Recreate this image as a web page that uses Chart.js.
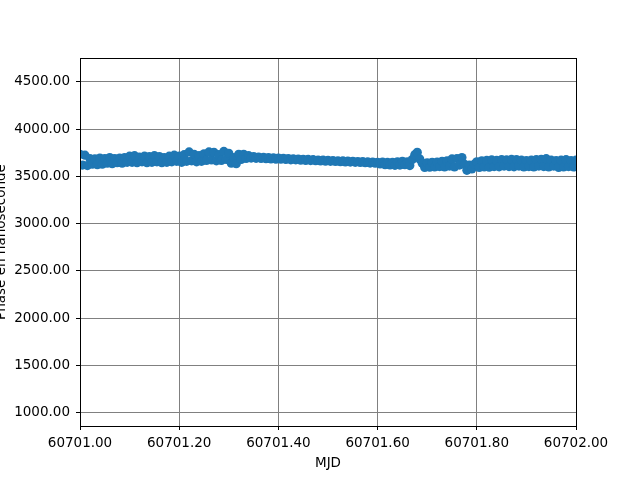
<!DOCTYPE html>
<html>
<head>
<meta charset="utf-8">
<script src="https://cdn.jsdelivr.net/npm/chart.js@4"></script>
<style>
  body { margin: 0; background: #fff; }
</style>
</head>
<body>
<canvas id="phaseChart" width="640" height="480"></canvas>
<script>
// MJD of the first sample, plus fraction of the day for each sample
const mjdStart = 60701;
const dayFrac = [
  0.000, 0.005, 0.010, 0.015, 0.020, 0.025, 0.030, 0.035, 0.040, 0.045,
  0.050, 0.055, 0.060, 0.065, 0.070, 0.075, 0.080, 0.085, 0.090, 0.095,
  0.100, 0.105, 0.110, 0.115, 0.120, 0.125, 0.130, 0.135, 0.140, 0.145,
  0.150, 0.155, 0.160, 0.165, 0.170, 0.175, 0.180, 0.185, 0.190, 0.195,
  0.200, 0.205, 0.210, 0.215, 0.220, 0.225, 0.230, 0.235, 0.240, 0.245,
  0.250, 0.255, 0.260, 0.265, 0.270, 0.275, 0.280, 0.285, 0.290, 0.295,
  0.300, 0.305, 0.310, 0.315, 0.320, 0.325, 0.330, 0.335, 0.340, 0.345,
  0.350, 0.355, 0.360, 0.365, 0.370, 0.375, 0.380, 0.385, 0.390, 0.395,
  0.400, 0.405, 0.410, 0.415, 0.420, 0.425, 0.430, 0.435, 0.440, 0.445,
  0.450, 0.455, 0.460, 0.465, 0.470, 0.475, 0.480, 0.485, 0.490, 0.495,
  0.500, 0.505, 0.510, 0.515, 0.520, 0.525, 0.530, 0.535, 0.540, 0.545,
  0.550, 0.555, 0.560, 0.565, 0.570, 0.575, 0.580, 0.585, 0.590, 0.595,
  0.600, 0.605, 0.610, 0.615, 0.620, 0.625, 0.630, 0.635, 0.640, 0.645,
  0.650, 0.655, 0.660, 0.665, 0.670, 0.675, 0.680, 0.685, 0.690, 0.695,
  0.700, 0.705, 0.710, 0.715, 0.720, 0.725, 0.730, 0.735, 0.740, 0.745,
  0.750, 0.755, 0.760, 0.765, 0.770, 0.775, 0.780, 0.785, 0.790, 0.795,
  0.800, 0.805, 0.810, 0.815, 0.820, 0.825, 0.830, 0.835, 0.840, 0.845,
  0.850, 0.855, 0.860, 0.865, 0.870, 0.875, 0.880, 0.885, 0.890, 0.895,
  0.900, 0.905, 0.910, 0.915, 0.920, 0.925, 0.930, 0.935, 0.940, 0.945,
  0.950, 0.955, 0.960, 0.965, 0.970, 0.975, 0.980, 0.985, 0.990, 0.995,
  1.000
];

// phase in nanoseconds
const phaseNs = [
  3735, 3620, 3725, 3615, 3690, 3630, 3685, 3625, 3695, 3630,
  3690, 3640, 3700, 3635, 3690, 3645, 3695, 3640, 3700, 3650,
  3715, 3650, 3720, 3645, 3705, 3655, 3715, 3645, 3710, 3650,
  3720, 3655, 3710, 3645, 3700, 3650, 3715, 3655, 3725, 3660,
  3715, 3650, 3730, 3660, 3760, 3665, 3735, 3655, 3720, 3660,
  3740, 3670, 3760, 3675, 3755, 3665, 3730, 3670, 3765, 3680,
  3745, 3640, 3700, 3635, 3735, 3680, 3735, 3690, 3720, 3695,
  3710, 3692, 3706, 3690, 3702, 3688, 3700, 3686, 3696, 3682,
  3694, 3682, 3692, 3680, 3690, 3676, 3686, 3676, 3684, 3672,
  3682, 3670, 3680, 3668, 3678, 3666, 3674, 3664, 3672, 3662,
  3670, 3660, 3668, 3658, 3666, 3656, 3664, 3654, 3662, 3652,
  3660, 3650, 3658, 3648, 3656, 3646, 3654, 3642, 3652, 3640,
  3650, 3632, 3652, 3625, 3648, 3622, 3650, 3618, 3655, 3620,
  3660, 3625, 3655, 3615, 3680, 3730, 3755, 3685, 3640, 3595,
  3645, 3598, 3650, 3600, 3652, 3605, 3660, 3600, 3665, 3610,
  3685, 3600, 3690, 3620, 3700, 3630, 3565, 3620, 3580, 3630,
  3655, 3595, 3665, 3600, 3670, 3598, 3675, 3605, 3670, 3602,
  3678, 3610, 3675, 3605, 3680, 3602, 3678, 3610, 3672, 3600,
  3668, 3605, 3672, 3600, 3678, 3610, 3682, 3605, 3688, 3600,
  3672, 3610, 3668, 3595, 3672, 3600, 3678, 3605, 3668, 3600,
  3672
];

const xTicks = [60701.0, 60701.2, 60701.4, 60701.6, 60701.8, 60702.0];
const yTicks = [1000, 1500, 2000, 2500, 3000, 3500, 4000, 4500];
const yLabel = 'Phase en nanoseconde';
const xLabel = 'MJD';

const points = dayFrac.map((f, i) => ({ x: mjdStart + f, y: phaseNs[i] }));

Chart.defaults.font.family = '"DejaVu Sans", sans-serif';
Chart.defaults.font.size = 13.5;
Chart.defaults.color = '#000';

// black frame round the plot area + rotated y label (cut at the left edge like the original)
const framePlugin = {
  id: 'frame',
  afterDraw(chart) {
    const { ctx, chartArea: a } = chart;
    ctx.save();
    ctx.strokeStyle = '#000';
    ctx.lineWidth = 1;
    ctx.strokeRect(a.left + 0.5, a.top + 0.5, a.right - a.left, a.bottom - a.top);
    ctx.translate(5, (a.top + a.bottom) / 2);
    ctx.rotate(-Math.PI / 2);
    ctx.fillStyle = '#000';
    ctx.font = '13.5px "DejaVu Sans", sans-serif';
    ctx.textAlign = 'center';
    ctx.textBaseline = 'alphabetic';
    ctx.fillText(yLabel, 0, 0);
    ctx.restore();
  }
};

const ctx = document.getElementById('phaseChart').getContext('2d');
const phaseChart = new Chart(ctx, {
  type: 'scatter',
  data: {
    datasets: [{
      label: 'phase',
      data: points,
      backgroundColor: '#1f77b4',
      borderColor: '#1f77b4',
      borderWidth: 0,
      pointRadius: 4.6,
      pointHoverRadius: 4.6,
      clip: 0
    }]
  },
  options: {
    responsive: false,
    animation: false,
    layout: { padding: { top: 58, right: 64, bottom: 0, left: 0 } },
    plugins: {
      legend: { display: false },
      tooltip: { enabled: false }
    },
    scales: {
      x: {
        type: 'linear',
        min: 60701,
        max: 60702,
        afterBuildTicks: s => { s.ticks = xTicks.map(v => ({ value: v })); },
        afterFit: s => { s.height = 54; },
        ticks: {
          padding: 5,
          maxRotation: 0,
          callback: v => Number(v).toFixed(2)
        },
        grid: { color: '#808080', lineWidth: 1, tickLength: 4, tickColor: '#000', tickWidth: 1 },
        border: { color: '#000', width: 1 },
        title: { display: true, text: xLabel, padding: { top: 0, bottom: 8 } }
      },
      y: {
        min: 858,
        max: 4754,
        afterBuildTicks: s => { s.ticks = yTicks.map(v => ({ value: v })); },
        afterFit: s => { s.width = 80; },
        ticks: {
          padding: 6,
          callback: v => Number(v).toFixed(2)
        },
        grid: { color: '#808080', lineWidth: 1, tickLength: 4, tickColor: '#000', tickWidth: 1 },
        border: { color: '#000', width: 1 }
      }
    }
  },
  plugins: [framePlugin]
});
</script>
</body>
</html>
